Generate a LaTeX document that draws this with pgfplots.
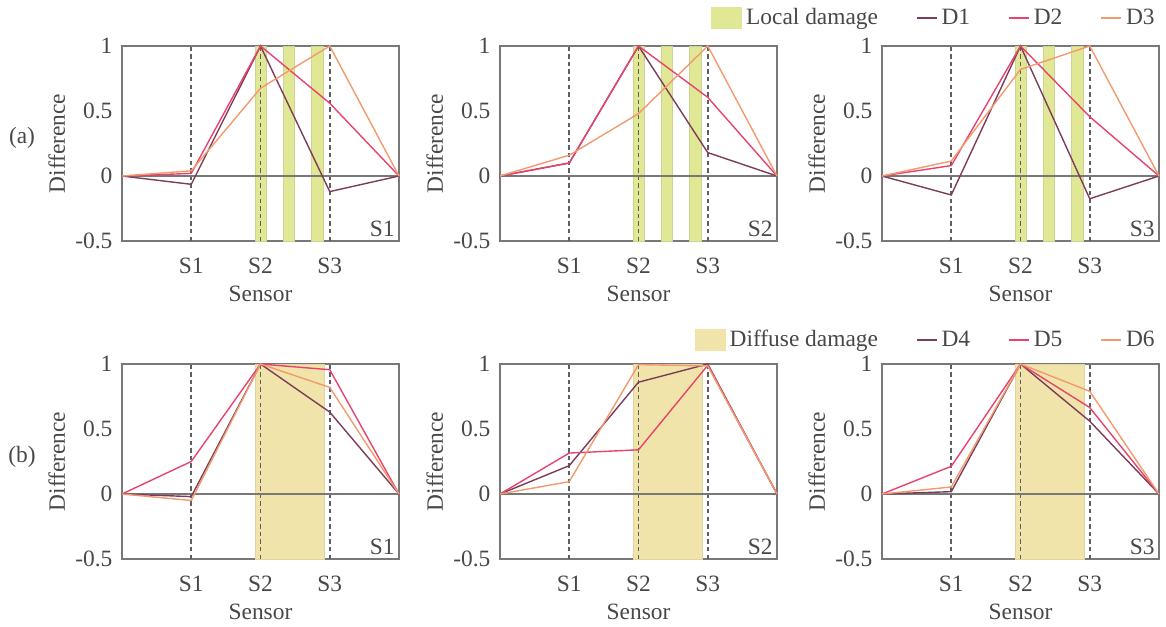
\documentclass[border=0pt]{standalone}
\usepackage{fontspec}
\setmainfont{Liberation Serif}
\usepackage{pgfplots}
\pgfplotsset{compat=1.18}
\usepackage{pgfplotstable}

\definecolor{cA}{RGB}{125,60,92}
\definecolor{cB}{RGB}{232,67,110}
\definecolor{cC}{RGB}{242,154,110}
\definecolor{localg}{RGB}{224,232,150}
\definecolor{diffy}{RGB}{240,228,170}
\definecolor{axg}{RGB}{120,120,120}
\definecolor{txt}{RGB}{72,72,72}
\definecolor{dashg}{RGB}{95,95,95}

\newcommand{\fs}{\fontsize{11.7}{14}\selectfont}

% panel (a) tables: x, D1, D2, D3
\pgfplotstableread{
x A B C
0 0 0 0
1 -0.064 0.02 0.04
2 1 1 0.675
3 -0.12 0.56 1
4 0 0 0
}\tabAa
\pgfplotstableread{
x A B C
0 0 0 0
1 0.10 0.10 0.16
2 1 1 0.48
3 0.18 0.605 1
4 0 0 0
}\tabAb
\pgfplotstableread{
x A B C
0 0 0 0
1 -0.146 0.08 0.115
2 1 1 0.82
3 -0.175 0.456 1
4 0 0 0
}\tabAc
% panel (b) tables: x, D4, D5, D6
\pgfplotstableread{
x A B C
0 0 0 0
1 -0.02 0.25 -0.05
2 1 1 1
3 0.63 0.956 0.82
4 0 0 0
}\tabBa
\pgfplotstableread{
x A B C
0 0 0 0
1 0.218 0.315 0.095
2 0.86 0.34 0.995
3 1 0.99 0.985
4 0 0 0
}\tabBb
\pgfplotstableread{
x A B C
0 0 0 0
1 0.018 0.213 0.054
2 1 1 1
3 0.56 0.665 0.79
4 0 0 0
}\tabBc

\pgfplotsset{
 panel/.style={
  scale only axis, width=138.5pt, height=97.5pt,
  xmin=0, xmax=4, ymin=-0.5, ymax=1,
  xtick={1,2,3}, xticklabels={S1,S2,S3},
  ytick={-0.5,0,0.5,1}, yticklabels={-0.5,0,0.5,1},
  major tick length=0pt,
  axis line style={draw=axg, line width=0.6pt},
  tick label style={font=\fs, text=txt},
  xticklabel style={anchor=base, yshift=-16.2pt},
  yticklabel style={anchor=east, xshift=-1.3pt},
  xlabel={Sensor}, ylabel={Difference},
  label style={font=\fs, text=txt},
  xlabel style={at={(axis description cs:0.5,-0.311)}, anchor=base},
  ylabel style={at={(axis description cs:-0.206,0.5)}, anchor=base},
  clip=false,
 },
 panellegend/.style={
  legend columns=4,
  legend style={at={(axis description cs:1,#1)}, anchor=east, draw=none, fill=none,
   inner sep=0pt, font=\fs, text=txt,
   /tikz/every even column/.append style={column sep=17pt}},
 },
}

\newcommand{\localbars}{%
 \addplot[fill=localg, draw=localg!80!gray, line width=0.3pt, forget plot] coordinates {(1.92,-0.5) (1.92,1) (2.08,1) (2.08,-0.5)} -- cycle;
 \addplot[fill=localg, draw=localg!80!gray, line width=0.3pt, forget plot] coordinates {(2.325,-0.5) (2.325,1) (2.49,1) (2.49,-0.5)} -- cycle;
 \addplot[fill=localg, draw=localg!80!gray, line width=0.3pt, forget plot] coordinates {(2.735,-0.5) (2.735,1) (2.9,1) (2.9,-0.5)} -- cycle;
}
\newcommand{\diffbar}{%
 \addplot[fill=diffy, draw=diffy!85!gray, line width=0.3pt, forget plot] coordinates {(1.93,-0.5) (1.93,1) (2.925,1) (2.925,-0.5)} -- cycle;
}
\newcommand{\guides}{%
 \addplot[dashg, dash pattern=on 2.2pt off 1.6pt, line width=0.8pt, forget plot] coordinates {(1,-0.5) (1,1)};
 \addplot[dashg, dash pattern=on 2.2pt off 1.6pt, line width=0.8pt, forget plot] coordinates {(2,-0.5) (2,1)};
 \addplot[dashg, dash pattern=on 2.2pt off 1.6pt, line width=0.8pt, forget plot] coordinates {(3,-0.5) (3,1)};
 \addplot[axg, line width=0.6pt, forget plot] coordinates {(0,0) (4,0)};
}
\newcommand{\series}[1]{%
 \addplot[cA, line width=0.7pt, forget plot] table[x=x, y=A] {#1};
 \addplot[cB, line width=0.7pt, forget plot] table[x=x, y=B] {#1};
 \addplot[cC, line width=0.7pt, forget plot] table[x=x, y=C] {#1};
}
\newcommand{\plabel}[1]{\node[anchor=south east, font=\fs, text=txt, inner sep=2pt] at (rel axis cs:1,0) {#1};}

\begin{document}
\begin{tikzpicture}
\path[use as bounding box] (0pt,0pt) rectangle (583pt,-313pt);
\node[font=\fs, text=txt] at (11pt,-69pt) {(a)};
\node[font=\fs, text=txt] at (11pt,-228.5pt) {(b)};

% row (a)
\begin{axis}[panel, at={(61pt,-23pt)}, anchor=north west]
 \localbars \guides \series{\tabAa} \plabel{S1}
\end{axis}
\begin{axis}[panel, at={(250pt,-23pt)}, anchor=north west]
 \localbars \guides \series{\tabAb} \plabel{S2}
\end{axis}
\begin{axis}[panel, panellegend=1.1436, at={(441pt,-23pt)}, anchor=north west]
 \localbars \guides \series{\tabAc} \plabel{S3}
 \addlegendimage{legend image code/.code={\fill[localg] (0pt,-5.2pt) rectangle (15pt,5.2pt);}}
 \addlegendentry{Local damage}
 \addlegendimage{legend image code/.code={\draw[cA, line width=0.8pt] (0pt,0pt) -- (10pt,0pt);}}
 \addlegendentry{D1}
 \addlegendimage{legend image code/.code={\draw[cB, line width=0.8pt] (0pt,0pt) -- (10pt,0pt);}}
 \addlegendentry{D2}
 \addlegendimage{legend image code/.code={\draw[cC, line width=0.8pt] (0pt,0pt) -- (10pt,0pt);}}
 \addlegendentry{D3}
\end{axis}

% row (b)
\begin{axis}[panel, at={(61pt,-182pt)}, anchor=north west]
 \diffbar \guides \series{\tabBa} \plabel{S1}
\end{axis}
\begin{axis}[panel, at={(250pt,-182pt)}, anchor=north west]
 \diffbar \guides \series{\tabBb} \plabel{S2}
\end{axis}
\begin{axis}[panel, panellegend=1.123, at={(441pt,-182pt)}, anchor=north west]
 \diffbar \guides \series{\tabBc} \plabel{S3}
 \addlegendimage{legend image code/.code={\fill[diffy] (0pt,-5.2pt) rectangle (15pt,5.2pt);}}
 \addlegendentry{Diffuse damage}
 \addlegendimage{legend image code/.code={\draw[cA, line width=0.8pt] (0pt,0pt) -- (10pt,0pt);}}
 \addlegendentry{D4}
 \addlegendimage{legend image code/.code={\draw[cB, line width=0.8pt] (0pt,0pt) -- (10pt,0pt);}}
 \addlegendentry{D5}
 \addlegendimage{legend image code/.code={\draw[cC, line width=0.8pt] (0pt,0pt) -- (10pt,0pt);}}
 \addlegendentry{D6}
\end{axis}
\end{tikzpicture}
\end{document}
